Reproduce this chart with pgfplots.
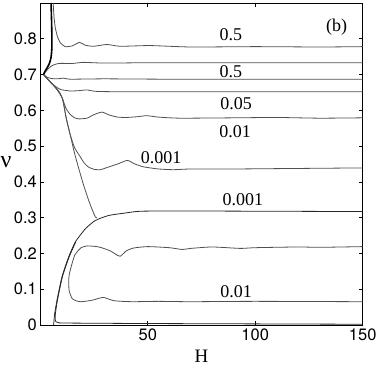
\documentclass[border=0pt]{standalone}
\usepackage{pgfplots}
\pgfplotsset{compat=1.18}
\usepackage{fontspec}
\setmainfont{TeX Gyre Heros}
\newfontfamily\tnr{Liberation Serif}
\definecolor{cg}{RGB}{80,80,80}
\tikzset{cur/.style={cg, line width=0.8pt, smooth, tension=0.35, mark=none}}
\begin{document}
\begin{tikzpicture}
\begin{axis}[
 scale only axis, width=322.4pt, height=322pt,
 xmin=0,xmax=150,ymin=0,ymax=0.9,
 xtick={50,100,150}, ytick={0,0.1,0.2,0.3,0.4,0.5,0.6,0.7,0.8},
 tick align=inside, major tick length=4pt,
 tick style={black, line width=0.6pt},
 axis line style={black, line width=0.8pt},
 /pgf/number format/assume math mode=true,
 ticklabel style={font=\fontsize{16.5}{18}\selectfont},
 clip=false,
]
% A: upper 0.5 (~0.78)
\addplot[cur] coordinates {(6.0,0.9)(6.4,0.86)(7.0,0.83)(8,0.806)(9.3,0.789)(11.6,0.778)(14.8,0.780)(18.3,0.790)(20.9,0.782)(24.8,0.779)(31,0.784)(37.2,0.779)(51,0.781)(70,0.777)(100,0.778)(130,0.777)(150,0.778)};
% B: 0.5 (~0.733)
\addplot[cur] coordinates {(1.5,0.70)(2.5,0.708)(4,0.718)(5.5,0.725)(8.5,0.731)(15,0.731)(20,0.734)(30,0.732)(50,0.733)(100,0.733)(150,0.733)};
% C: ~0.687
\addplot[cur] coordinates {(1.5,0.70)(3,0.693)(5,0.689)(8,0.688)(10.8,0.690)(14,0.687)(30,0.688)(60,0.687)(150,0.687)};
% D: 0.05 (~0.652)
\addplot[cur] coordinates {(1.5,0.70)(3,0.69)(5,0.677)(7,0.667)(9.5,0.658)(14,0.654)(18,0.655)(21.7,0.657)(26,0.653)(40,0.652)(150,0.652)};
% E: 0.01 (~0.578)
\addplot[cur] coordinates {(1.5,0.70)(3,0.69)(5,0.677)(7,0.665)(9,0.65)(10.5,0.63)(12,0.605)(14,0.588)(16,0.579)(18,0.576)(21.7,0.578)(25,0.588)(28.7,0.595)(32,0.587)(36,0.581)(40,0.580)(45,0.582)(49.5,0.585)(55,0.581)(65,0.578)(90,0.579)(110,0.580)(130,0.578)(150,0.579)};
% F: 0.001 (~0.437)
\addplot[cur] coordinates {(1.5,0.70)(3,0.69)(5,0.677)(7,0.664)(8.5,0.652)(10.4,0.631)(12.1,0.576)(14,0.53)(16,0.495)(18.6,0.470)(20.5,0.452)(22.5,0.441)(25,0.435)(28,0.434)(31,0.440)(36,0.450)(40.5,0.460)(44,0.450)(48,0.442)(55,0.436)(62,0.434)(70,0.436)(90,0.436)(110,0.437)(130,0.438)(150,0.439)};
% S: separatrix
\addplot[cur] coordinates {(1.5,0.70)(3,0.69)(5,0.677)(7,0.664)(8.5,0.652)(10.4,0.631)(12.1,0.578)(14,0.53)(15.8,0.483)(18,0.435)(20.2,0.39)(23,0.34)(25.6,0.302)(26.4,0.300)};
% G: lower 0.001 envelope (~0.318)
\addplot[cur, black!85] coordinates {(6.2,0.0)(6.7,0.032)(7.8,0.07)(10.1,0.135)(13.2,0.19)(16.3,0.232)(21,0.269)(25.6,0.292)(31.8,0.306)(39.6,0.313)(47,0.318)(70,0.3185)(100,0.318)(125,0.3175)(150,0.317)};
% Z: near zero
\addplot[cur, black!85] coordinates {(16.5,0.232)(13.4,0.19)(10.3,0.135)(8.0,0.07)(7.0,0.03)(7.0,0.013)(8.5,0.006)(20,0.005)(50,0.004)(100,0.003)(150,0.002)};
% L: closed loop 0.01
\addplot[cur] coordinates {(150,0.219)(130,0.217)(120,0.218)(100,0.216)(93,0.214)(80,0.218)(70,0.214)(66,0.211)(60,0.216)(50,0.219)(43.4,0.215)(40,0.207)(37.2,0.192)(35,0.198)(32.6,0.207)(29,0.215)(26.4,0.219)(21.7,0.221)(19,0.216)(17.8,0.209)(16,0.195)(14.8,0.172)(13.6,0.145)(13.2,0.125)(13.3,0.105)(13.5,0.093)(14.8,0.074)(16.5,0.068)(18.6,0.065)(22,0.067)(24.8,0.070)(27.5,0.075)(29.5,0.077)(31.5,0.073)(34.1,0.068)(38,0.066)(43.4,0.065)(55,0.066)(70,0.065)(100,0.066)(150,0.065)};
% T: thick black
\addplot[cur, black, line width=1.6pt] coordinates {(1.5,0.70)(2.3,0.71)(3.3,0.72)(4.3,0.732)(5.0,0.748)(5.35,0.77)(5.4,0.80)(5.25,0.85)(5.0,0.9)};
% labels
\begin{scope}[font=\tnr\fontsize{18}{20}\selectfont]
\node at (axis cs:137.9,0.833) {(b)};
\node at (axis cs:88.7,0.811) {0.5};
\node at (axis cs:88.7,0.7075) {0.5};
\node at (axis cs:91.1,0.618) {0.05};
\node at (axis cs:90.6,0.540) {0.01};
\node at (axis cs:56.2,0.4666) {0.001};
\node at (axis cs:94.3,0.351) {0.001};
\node at (axis cs:91.1,0.092) {0.01};
\end{scope}
\node[font=\tnr\fontsize{24}{26}\selectfont] at (rel axis cs:-0.106,0.507) {ν};
\node[font=\tnr\fontsize{19}{21}\selectfont] at (rel axis cs:0.5,-0.097) {H};
\coordinate (bl) at (rel axis cs:-0.125,-0.1335);
\coordinate (tr) at (rel axis cs:1.06,1.0093);
\end{axis}
\pgfresetboundingbox
\path[use as bounding box] (bl) rectangle (tr);
\end{tikzpicture}
\end{document}
